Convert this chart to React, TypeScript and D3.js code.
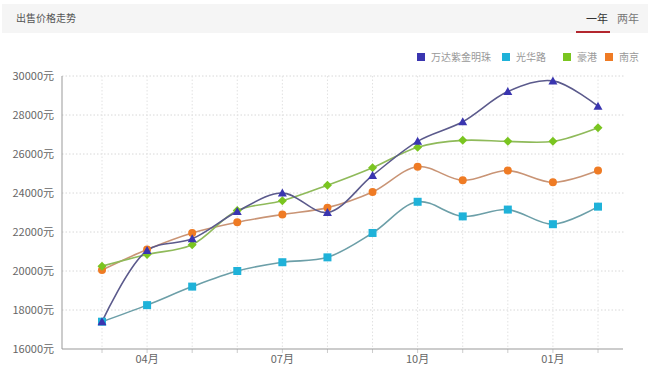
import React from "react";
import * as d3 from "d3";

const months = ["03月", "04月", "05月", "06月", "07月", "08月", "09月", "10月", "11月", "12月", "01月", "02月"];
const tickLabelMonths = ["04月", "07月", "10月", "01月"];
const yTicks = [16000, 18000, 20000, 22000, 24000, 26000, 28000, 30000];

const seriesNames = ["万达紫金明珠", "光华路", "豪港", "南京"];
const wanda = [17400, 21050, 21650, 23050, 24000, 23000, 24900, 26650, 27650, 29200, 29750, 28450];
const guanghua = [17400, 18250, 19200, 20000, 20450, 20700, 21950, 23550, 22800, 23150, 22400, 23300];
const haogang = [20250, 20850, 21350, 23100, 23600, 24400, 25300, 26350, 26700, 26650, 26650, 27350];
const nanjing = [20050, 21100, 21950, 22500, 22900, 23250, 24050, 25350, 24650, 25150, 24550, 25150];

const seriesValues = [wanda, guanghua, haogang, nanjing];
const markerColors = ["#3a35b0", "#1fb2d9", "#7ac520", "#ef7b24"];
const lineColors = ["#5b5a8c", "#6c9fa8", "#8fba5a", "#c99475"];
const markerShapes = ["triangle", "square", "diamond", "circle"];

const W = 650;
const H = 377;
const left = 62;
const right = 623;
const top = 76;
const bottom = 349;

export default function App() {
  const x = d3.scalePoint<string>().domain(months).range([102, 598]);
  const y = d3.scaleLinear().domain([16000, 30000]).range([bottom, top]);
  const line = d3
    .line<number>()
    .x((_, i) => x(months[i]) as number)
    .y((d) => y(d))
    .curve(d3.curveCatmullRom.alpha(0.5));

  const marker = (shape: string, cx: number, cy: number, color: string, key: string) => {
    if (shape === "circle") return <circle key={key} cx={cx} cy={cy} r={4} fill={color} />;
    if (shape === "square")
      return <rect key={key} x={cx - 4} y={cy - 4} width={8} height={8} fill={color} />;
    if (shape === "diamond")
      return (
        <path key={key} d={`M${cx},${cy - 4.5}L${cx + 4.5},${cy}L${cx},${cy + 4.5}L${cx - 4.5},${cy}Z`} fill={color} />
      );
    return <path key={key} d={`M${cx},${cy - 4.5}L${cx + 4.5},${cy + 3.5}L${cx - 4.5},${cy + 3.5}Z`} fill={color} />;
  };

  const legendX = [417, 502, 563, 605];
  const order = [3, 2, 1, 0];

  return (
    <svg
      width={W}
      height={H}
      style={{ position: "absolute", left: 0, top: 0, background: "#fff", fontFamily: "'Noto Sans CJK SC', 'Noto Sans', sans-serif" }}
    >
      {/* header */}
      <rect x={2} y={4} width={646} height={29} fill="#f5f5f5" />
      <text x={16} y={22} fontSize={10} fill="#555">出售价格走势</text>
      <text x={586} y={23} fontSize={11} fill="#333">一年</text>
      <text x={617} y={23} fontSize={11} fill="#777">两年</text>
      <rect x={576} y={31} width={34} height={2} fill="#b3262e" />

      {/* legend */}
      {seriesNames.map((n, i) => (
        <g key={n}>
          <rect x={legendX[i]} y={53} width={8} height={8} fill={markerColors[i]} />
          <text x={legendX[i] + 14} y={61} fontSize={10} fill="#999">{n}</text>
        </g>
      ))}

      {/* grid */}
      {yTicks.map((t) => (
        <g key={t}>
          {t !== 16000 && (
            <line x1={left} x2={right + 2} y1={y(t)} y2={y(t)} stroke="#d8d8d8" strokeDasharray="1.5,2" />
          )}
          <text x={54} y={y(t) + 4} fontSize={11} textAnchor="end" fill="#666">{t}元</text>
        </g>
      ))}
      {months.map((m) => (
        <g key={m}>
          <line x1={x(m)} x2={x(m)} y1={top} y2={bottom} stroke="#e2e2e2" strokeDasharray="1.5,2" />
          <line x1={x(m)} x2={x(m)} y1={bottom} y2={bottom + 4} stroke="#ccc" />
        </g>
      ))}
      <line x1={left} x2={left} y1={top} y2={bottom} stroke="#999" />
      <line x1={left} x2={right} y1={bottom} y2={bottom} stroke="#999" />
      {tickLabelMonths.map((m) => (
        <text key={m} x={x(m)} y={363} fontSize={11} textAnchor="middle" fill="#666">{m}</text>
      ))}

      {/* series */}
      {order.map((si) => (
        <path key={"l" + si} d={line(seriesValues[si]) || ""} fill="none" stroke={lineColors[si]} strokeWidth={1.6} />
      ))}
      {order.map((si) =>
        seriesValues[si].map((v, i) => marker(markerShapes[si], x(months[i]) as number, y(v), markerColors[si], `m${si}-${i}`))
      )}
    </svg>
  );
}
